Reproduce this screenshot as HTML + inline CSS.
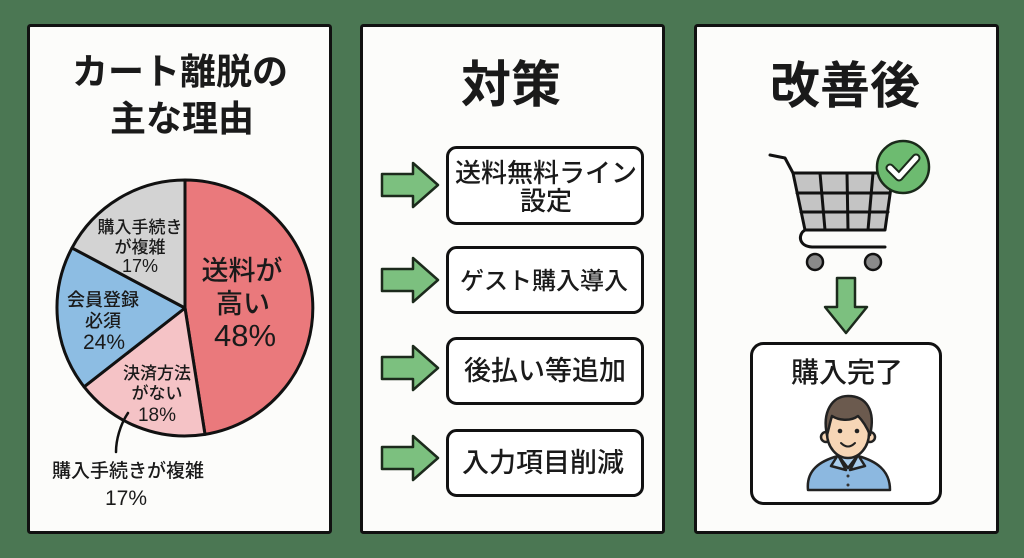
<!DOCTYPE html>
<html><head><meta charset="utf-8"><style>
html,body{margin:0;padding:0;background:#4b7753;}
svg{display:block;}
text{font-family:"Liberation Sans","Noto Sans CJK JP",sans-serif;fill:#1a1a1a;}
.t{font-weight:700;}
.m{font-weight:500;}
</style></head><body>
<svg width="1024" height="558" viewBox="0 0 1024 558" xmlns="http://www.w3.org/2000/svg">
<rect x="0" y="0" width="1024" height="558" fill="#4b7753"/>
<!-- panels -->
<rect x="28.5" y="25.5" width="302" height="507" fill="#fcfcfa" stroke="#111" stroke-width="3" rx="2"/>
<rect x="361.5" y="25.5" width="302" height="507" fill="#fcfcfa" stroke="#111" stroke-width="3" rx="2"/>
<rect x="695.5" y="25.5" width="302" height="507" fill="#fcfcfa" stroke="#111" stroke-width="3" rx="2"/>

<!-- Panel 1 -->
<text class="t" x="180" y="84" font-size="36" text-anchor="middle">カート離脱の</text>
<text class="t" x="182" y="131" font-size="36" text-anchor="middle">主な理由</text>

<g stroke="#111" stroke-width="3" stroke-linejoin="round">
<path d="M185,308 L185,180 A128,128 0 0 1 205,434.4 Z" fill="#ea797c"/>
<path d="M185,308 L205,434.4 A128,128 0 0 1 84.1,386.8 Z" fill="#f5c3c6"/>
<path d="M185,308 L84.1,386.8 A128,128 0 0 1 72,247.9 Z" fill="#8dbde3"/>
<path d="M185,308 L72,247.9 A128,128 0 0 1 185,180 Z" fill="#d3d3d3"/>
</g>
<text class="m" x="140" y="233" font-size="17" text-anchor="middle">購入手続き</text>
<text class="m" x="140" y="253" font-size="17" text-anchor="middle">が複雑</text>
<text class="m" x="140" y="272" font-size="18" text-anchor="middle">17%</text>

<text class="m" x="242" y="280" font-size="27" text-anchor="middle">送料が</text>
<text class="m" x="243" y="313" font-size="27" text-anchor="middle">高い</text>
<text class="m" x="245" y="346" font-size="31" text-anchor="middle">48%</text>

<text class="m" x="103" y="306" font-size="18" text-anchor="middle">会員登録</text>
<text class="m" x="103" y="327" font-size="18" text-anchor="middle">必須</text>
<text class="m" x="104" y="349" font-size="21" text-anchor="middle">24%</text>

<text class="m" x="157" y="379" font-size="17" text-anchor="middle">決済方法</text>
<text class="m" x="157" y="399" font-size="17" text-anchor="middle">がない</text>
<text class="m" x="157" y="421" font-size="19" text-anchor="middle">18%</text>

<path d="M128,413 C120,425 116,440 116,452" fill="none" stroke="#111" stroke-width="2.5" stroke-linecap="round"/>
<text class="m" x="128" y="477" font-size="19" text-anchor="middle">購入手続きが複雑</text>
<text class="m" x="126" y="505" font-size="21" text-anchor="middle">17%</text>

<!-- Panel 2 -->
<text class="t" x="511" y="102" font-size="50" text-anchor="middle">対策</text>
<g fill="#fff" stroke="#111" stroke-width="3">
<rect x="447.5" y="147.5" width="195" height="76" rx="9"/>
<rect x="447.5" y="247.5" width="195" height="65" rx="9"/>
<rect x="447.5" y="338.5" width="195" height="65" rx="9"/>
<rect x="447.5" y="430.5" width="195" height="65" rx="9"/>
</g>
<text class="m" x="546" y="182" font-size="26" text-anchor="middle">送料無料ライン</text>
<text class="m" x="546" y="210" font-size="26" text-anchor="middle">設定</text>
<text class="m" x="544" y="289" font-size="24" text-anchor="middle">ゲスト購入導入</text>
<text class="m" x="545" y="380" font-size="27" text-anchor="middle">後払い等追加</text>
<text class="m" x="543" y="472" font-size="27" text-anchor="middle">入力項目削減</text>

<g fill="#7cc07f" stroke="#1c2a1c" stroke-width="2.5" stroke-linejoin="round">
<polygon points="382,174 413,174 413,163 438,185 413,207 413,196 382,196"/>
<polygon points="382,269 413,269 413,258 438,280 413,302 413,291 382,291"/>
<polygon points="382,357 413,357 413,346 438,368 413,390 413,379 382,379"/>
<polygon points="382,447 413,447 413,436 438,458 413,480 413,469 382,469"/>
</g>

<!-- Panel 3 -->
<text class="t" x="845" y="103" font-size="50" text-anchor="middle">改善後</text>

<!-- cart -->
<g stroke="#111" stroke-width="3" stroke-linejoin="round" stroke-linecap="round" fill="none">
<path d="M770,155 L785,158 L793,173"/>
<path d="M793,173 L893,173 L885,230 L805,230 Z" fill="#c4c4c4"/>
<path d="M797,193 L890,193 M801,212 L888,212"/>
<path d="M820,173 L825,230 M847,173 L848,230 M873,173 L868,230"/>
<path d="M805,230 C798,234 798,246 812,247 L885,247"/>
</g>
<circle cx="815" cy="262" r="8" fill="#8a8a8a" stroke="#111" stroke-width="2.5"/>
<circle cx="873" cy="262" r="8" fill="#8a8a8a" stroke="#111" stroke-width="2.5"/>
<circle cx="903" cy="167" r="26" fill="#6dbb70" stroke="#1a2a1a" stroke-width="2.5"/>
<path d="M890,168 L899,177 L916,158" fill="none" stroke="#1a2a1a" stroke-width="9" stroke-linecap="round" stroke-linejoin="round"/>
<path d="M890,168 L899,177 L916,158" fill="none" stroke="#fff" stroke-width="5" stroke-linecap="round" stroke-linejoin="round"/>

<!-- down arrow -->
<polygon points="837,278 855,278 855,307 867,307 846,333 825,307 837,307" fill="#7cc07f" stroke="#1c2a1c" stroke-width="2.5" stroke-linejoin="round"/>

<rect x="751.5" y="343.5" width="189" height="160" rx="12" fill="#fff" stroke="#111" stroke-width="3"/>
<text class="m" x="847" y="382" font-size="28" text-anchor="middle">購入完了</text>

<!-- person -->
<g stroke="#222" stroke-width="2.5" stroke-linejoin="round">
<path d="M808,490 C806,470 820,461 838,456 L858,456 C876,461 890,470 890,490 Z" fill="#8cb8e0"/>
<rect x="841" y="448" width="14" height="10" fill="#f7d6b6" stroke="none"/>
<path d="M838,455 L848,468 L858,455" fill="#a9cdec"/>
<path d="M838,455 L831,466 L846,470 Z M858,455 L865,466 L850,470 Z" fill="#a9cdec"/>
<circle cx="826" cy="437" r="5" fill="#f7d6b6"/>
<circle cx="870" cy="437" r="5" fill="#f7d6b6"/>
<ellipse cx="848" cy="433" rx="21" ry="25" fill="#f7d6b6"/>
<path d="M827,435 C822,412 832,396 848,396 C866,396 876,410 870,435 C866,425 862,420 858,416 C850,422 838,420 832,416 C830,422 829,428 827,435 Z" fill="#6b5a4e"/>
</g>
<circle cx="840" cy="431" r="2.3" fill="#222"/>
<circle cx="857" cy="431" r="2.3" fill="#222"/>
<path d="M841,443 Q848,450 855,443" fill="none" stroke="#222" stroke-width="2" stroke-linecap="round"/>
<circle cx="848" cy="476" r="1.5" fill="#333"/>
<circle cx="848" cy="485" r="1.5" fill="#333"/>
</svg>
</body></html>
